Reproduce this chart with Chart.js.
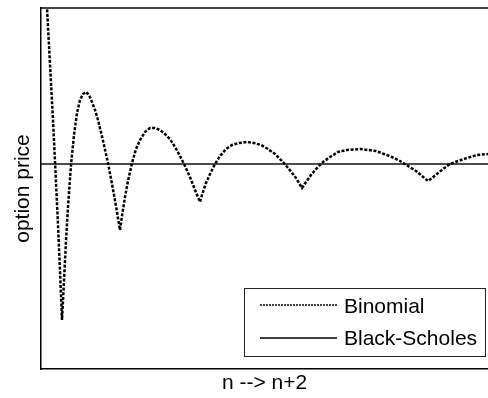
<!DOCTYPE html>
<html>
<head>
<meta charset="utf-8">
<script src="https://cdn.jsdelivr.net/npm/chart.js@4/dist/chart.umd.min.js"></script>
<style>
  body { margin: 0; background: #fff; }
</style>
</head>
<body>
<canvas id="myChart" width="488" height="398"></canvas>
<script>
// number of steps n and the binomial price after each step
var steps = [45, 47, 50, 53, 55.5, 58, 60, 62,
  64, 66, 68, 71, 74, 77, 80, 83, 86, 89, 92, 95, 98, 101, 104, 108, 112, 116, 120,
  122, 125, 128, 132, 136, 140, 145, 150, 155, 160, 165, 170, 175, 180, 185, 190, 195, 200,
  202, 206, 210, 215, 220, 226, 232, 239, 247, 254, 261, 268, 275, 282, 289, 296, 302,
  306, 311, 317, 323, 330, 338, 347, 360, 368, 376, 384, 392, 400, 408, 416, 422, 428,
  432, 437, 443, 450, 458, 467, 477, 488];
var binomial = [12.40, 12.00, 11.44, 10.88, 10.36, 9.83, 9.37, 8.88,
  9.27, 9.67, 10.01, 10.43, 10.73, 10.95, 11.08, 11.14, 11.16, 11.13, 11.06, 10.98, 10.88, 10.76, 10.63, 10.45, 10.24, 10.02, 9.78,
  9.92, 10.11, 10.27, 10.45, 10.59, 10.68, 10.76, 10.80, 10.80, 10.78, 10.74, 10.69, 10.61, 10.52, 10.42, 10.31, 10.18, 10.06,
  10.13, 10.25, 10.34, 10.44, 10.52, 10.59, 10.63, 10.65, 10.66, 10.65, 10.63, 10.59, 10.54, 10.47, 10.39, 10.30, 10.20,
  10.26, 10.33, 10.40, 10.46, 10.51, 10.56, 10.58, 10.59, 10.58, 10.57, 10.54, 10.51, 10.47, 10.42, 10.37, 10.32, 10.27,
  10.30, 10.34, 10.39, 10.44, 10.47, 10.50, 10.53, 10.54];
var blackScholes = 10.44;
var labels = ["Binomial", "Black-Scholes"];

var nMin = 41, nMax = 488;
var priceMin = 8.39, priceMax = 12.0;

var fontFamily = '"Liberation Sans", Arial, Helvetica, sans-serif';
Chart.defaults.font.family = fontFamily;
Chart.defaults.color = '#000';

// boxed legend in the lower right corner of the plot
var legendBox = {
  id: 'legendBox',
  afterDraw: function(chart) {
    var ctx = chart.ctx, area = chart.chartArea;
    var w = 241, h = 68;
    var x0 = Math.round(area.right - 3 - w);
    var y0 = Math.round(area.bottom - 13 - h);
    ctx.save();
    ctx.fillStyle = '#fff';
    ctx.fillRect(x0, y0, w, h);
    ctx.strokeStyle = '#222';
    ctx.lineWidth = 1;
    ctx.strokeRect(x0 + 0.5, y0 + 0.5, w, h);
    ctx.font = '21px ' + fontFamily;
    ctx.textBaseline = 'middle';
    ctx.textAlign = 'left';
    var rows = [{ text: 19.5, line: 17, dash: [2, 1] }, { text: 51, line: 50, dash: [] }];
    chart.data.datasets.forEach(function(ds, i) {
      var r = rows[i];
      ctx.beginPath();
      ctx.setLineDash(r.dash);
      ctx.lineWidth = 1.5;
      ctx.strokeStyle = '#000';
      ctx.moveTo(x0 + 16, y0 + r.line);
      ctx.lineTo(x0 + 93, y0 + r.line);
      ctx.stroke();
      ctx.setLineDash([]);
      ctx.fillStyle = '#000';
      ctx.fillText(ds.label, x0 + 100, y0 + r.text);
    });
    ctx.restore();
  }
};

var ctx = document.getElementById("myChart").getContext('2d');
var myChart = new Chart(ctx, {
  type: 'line',
  data: {
    datasets: [{
      label: labels[0],
      data: steps.map(function(n, i) { return { x: n, y: binomial[i] }; }),
      borderColor: '#000',
      borderWidth: 2.5,
      borderDash: [3, 1.6],
      pointRadius: 0,
      tension: 0,
      fill: false
    }, {
      label: labels[1],
      data: [{ x: nMin, y: blackScholes }, { x: nMax, y: blackScholes }],
      borderColor: '#111',
      borderWidth: 1.5,
      pointRadius: 0,
      fill: false
    }]
  },
  options: {
    responsive: false,
    animation: false,
    layout: { padding: { top: 8, right: 0, bottom: 0, left: 0 } },
    plugins: {
      legend: { display: false },
      tooltip: { enabled: false }
    },
    scales: {
      x: {
        type: 'linear',
        min: nMin,
        max: nMax,
        grid: { display: false, drawTicks: false },
        ticks: { display: false },
        border: { display: true, color: '#000', width: 1.5 },
        title: { display: true, text: 'n --> n+2', font: { size: 21 }, padding: { top: 1.4, bottom: 2.4 } }
      },
      xTop: {
        type: 'linear',
        position: 'top',
        grid: { display: false, drawTicks: false },
        ticks: { display: false },
        border: { display: true, color: '#444', width: 2 }
      },
      y: {
        min: priceMin,
        max: priceMax,
        grid: { display: false, drawTicks: false },
        ticks: { display: false },
        border: { display: true, color: '#000', width: 1.5 },
        title: { display: true, text: 'option price', font: { size: 21 }, padding: { top: 10.4, bottom: 5.4 } }
      }
    }
  },
  plugins: [legendBox]
});
</script>
</body>
</html>
